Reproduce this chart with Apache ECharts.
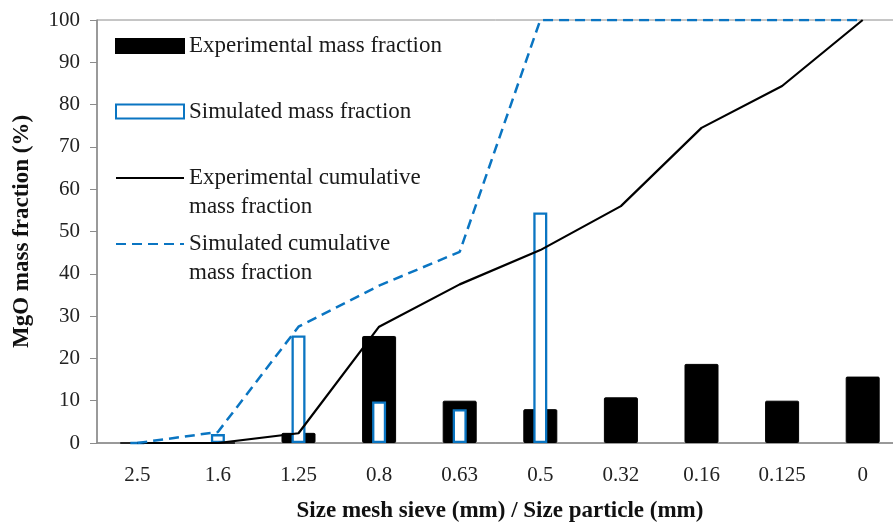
<!DOCTYPE html>
<html>
<head>
<meta charset="utf-8">
<script src="https://cdn.jsdelivr.net/npm/echarts@6/dist/echarts.min.js"></script>
<style>html,body{margin:0;padding:0;background:#fff}#c{width:893px;height:523px}</style>
</head>
<body>
<div id="c"></div>
<script>
const categories = ['2.5', '1.6', '1.25', '0.8', '0.63', '0.5', '0.32', '0.16', '0.125', '0'];
const expMass = [0, 0, 2.4, 25.3, 10.0, 8.0, 10.8, 18.7, 10.0, 15.7];
const simMass = [0, 2.1, 25.4, 9.8, 8.0, 54.5, null, null, null, null];
const expCum = [0, 0, 2.3, 27.5, 37.5, 45.6, 56.0, 74.5, 84.4, 100];
const simCum = [0, 2.6, 27.5, 37.2, 45.2, 100, 100, 100, 100, 100];
const yTicks = {min: 0, max: 100, interval: 10};

const FONT = 'Liberation Serif';
const BLUE = '#0A75C2';
const chart = echarts.init(document.getElementById('c'));
const legendText = {fontFamily: FONT, fontSize: 23, color: '#1a1a1a', lineHeight: 29};
function lg(name, top, isLine) {
  const o = {
    data: [{name: name, icon: isLine ? undefined : 'rect'}], left: 115, top: top, orient: 'vertical', padding: 0,
    itemWidth: 68, itemHeight: 14, itemGap: 0, selectedMode: false,
    textStyle: legendText,
    formatter: function (n) { return n.indexOf(' cumulative ') >= 0 ? '\n' + n.replace(' cumulative ', ' cumulative\n') : n; }
  };
  if (isLine) o.itemStyle = {opacity: 0};
  return o;
}
chart.setOption({
  animation: false,
  grid: {left: 97, top: 20, width: 806, height: 423, show: true, borderColor: '#8c8c8c', borderWidth: 1,
         containLabel: false, outerBoundsMode: 'none'},
  legend: [
    lg('Experimental mass fraction', 31.5, false),
    lg('Simulated mass fraction', 97, false),
    lg('Experimental cumulative mass fraction', 134.5, true),
    lg('Simulated cumulative mass fraction', 200.5, true)
  ],
  xAxis: [{
    type: 'category', data: categories, boundaryGap: true,
    axisLine: {lineStyle: {color: '#8c8c8c', width: 1.5}}, axisTick: {show: false},
    axisLabel: {fontFamily: FONT, fontSize: 21, color: '#222', margin: 22},
    name: 'Size mesh sieve (mm) / Size particle (mm)', nameLocation: 'middle', nameGap: 57,
    nameTextStyle: {fontFamily: FONT, fontSize: 23, fontWeight: 'bold', color: '#111'}
  }, {
    type: 'category', data: categories, boundaryGap: true, show: false, position: 'bottom'
  }],
  yAxis: {
    type: 'value', min: yTicks.min, max: yTicks.max, interval: yTicks.interval,
    axisLine: {show: true, lineStyle: {color: '#8c8c8c', width: 1.5}},
    axisTick: {show: true, length: 7, lineStyle: {color: '#8c8c8c'}},
    splitLine: {show: false},
    axisLabel: {fontFamily: FONT, fontSize: 21, color: '#222', margin: 17},
    name: 'MgO mass fraction (%)', nameLocation: 'middle', nameGap: 63,
    nameTextStyle: {fontFamily: FONT, fontSize: 23, fontWeight: 'bold', color: '#111'}
  },
  series: [{
    name: 'Experimental mass fraction', type: 'bar', data: expMass, barWidth: 34, xAxisIndex: 0,
    itemStyle: {color: '#000', borderColor: '#000', borderWidth: 1, borderRadius: 1}, z: 2
  }, {
    name: 'Simulated mass fraction', type: 'bar', data: simMass, barWidth: 14, xAxisIndex: 1,
    itemStyle: {color: '#fff', borderColor: BLUE, borderWidth: 2.3}, z: 3
  }, {
    name: 'Experimental cumulative mass fraction', type: 'line', data: expCum, xAxisIndex: 0,
    symbol: 'none', lineStyle: {color: '#000', width: 2.2}, itemStyle: {color: '#000'}, z: 4
  }, {
    name: 'Simulated cumulative mass fraction', type: 'line', data: simCum, xAxisIndex: 0,
    symbol: 'none', lineStyle: {color: BLUE, width: 2.5, type: [10, 6]}, itemStyle: {color: BLUE}, z: 4
  }]
});
</script>
</body>
</html>
